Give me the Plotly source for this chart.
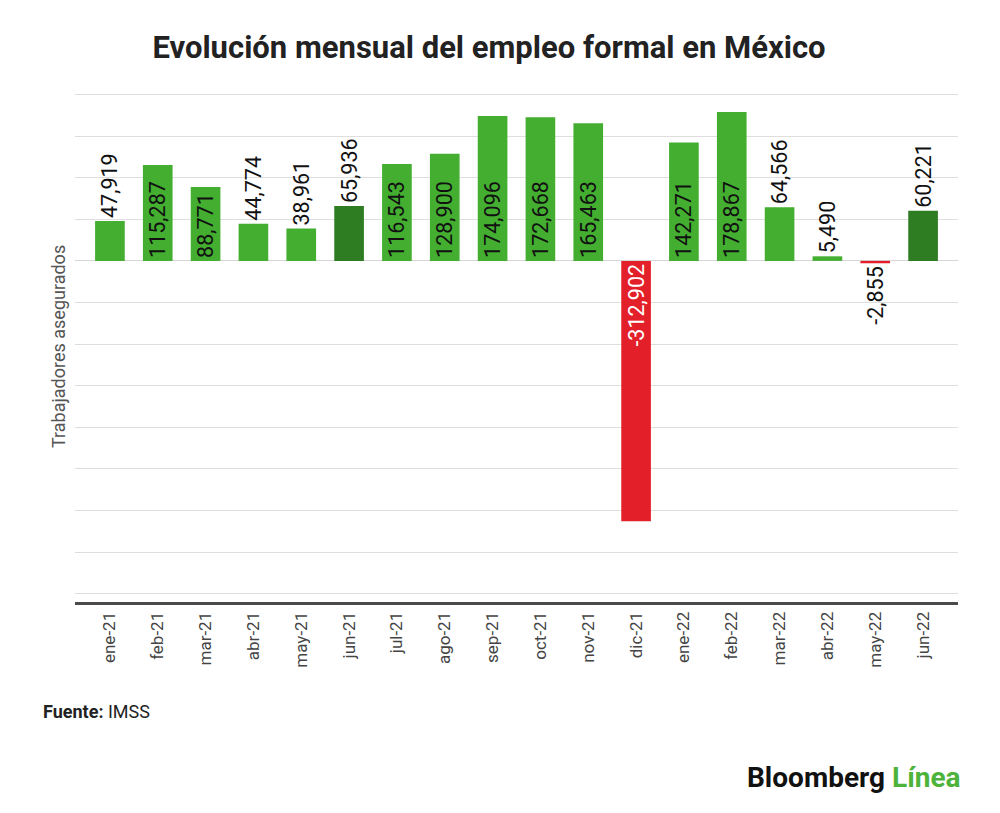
import plotly.graph_objects as go

# datos mensuales (trabajadores asegurados, variacion mensual)
months = ["ene-21", "feb-21", "mar-21", "abr-21", "may-21", "jun-21",
          "jul-21", "ago-21", "sep-21", "oct-21", "nov-21", "dic-21",
          "ene-22", "feb-22", "mar-22", "abr-22", "may-22", "jun-22"]
values = [47919, 115287, 88771, 44774, 38961, 65936,
          116543, 128900, 174096, 172668, 165463, -312902,
          142271, 178867, 64566, 5490, -2855, 60221]
highlight = ["jun-21", "jun-22"]

LIGHT_GREEN = "#43AE30"
DARK_GREEN = "#2E7D22"
RED = "#E3202A"

# la pagina tiene 8px de margen en el body
OFF = 8
W, H = 1000 - OFF, 813 - OFF
L, R, T, B = 75 - OFF, 42, 92 - OFF, 211
plot_w = W - L - R
plot_h = H - T - B


def px_x(x):
    # x en pixeles de pantalla -> coordenada paper
    return (x - OFF - L) / plot_w


def px_y(y):
    return (H - B - (y - OFF)) / plot_h


colors = []
for m, v in zip(months, values):
    if v < 0:
        colors.append(RED)
    elif m in highlight:
        colors.append(DARK_GREEN)
    else:
        colors.append(LIGHT_GREEN)

labels = [f"{v:,}" for v in values]
# etiquetas dentro de la barra solo cuando caben
positions = ["inside" if abs(v) >= 80000 else "outside" for v in values]
inside_colors = ["#ffffff" if v < 0 else "#111111" for v in values]

fig = go.Figure()
fig.add_trace(go.Bar(
    x=months,
    y=values,
    marker=dict(color=colors, line=dict(width=0)),
    text=labels,
    textposition=positions,
    textangle=-90,
    insidetextanchor="start",
    constraintext="none",
    insidetextfont=dict(family="Roboto", size=21.5, color=inside_colors),
    outsidetextfont=dict(family="Roboto", size=21.5, color="#111111"),
    cliponaxis=False,
    hoverinfo="x+y",
))

fig.update_layout(
    width=W,
    height=H,
    margin=dict(l=L, r=R, t=T, b=B),
    paper_bgcolor="white",
    plot_bgcolor="white",
    bargap=0.38,
    showlegend=False,
    font=dict(family="Roboto", color="#333333"),
    title=dict(
        text="<b>Evolución mensual del empleo formal en México</b>",
        x=(489 - OFF) / W, xanchor="center",
        y=1 - (47 - OFF) / H, yanchor="middle",
        font=dict(family="Roboto", size=31, color="#222222"),
    ),
)

fig.update_xaxes(
    range=[-0.73, 17.73],
    tickangle=-90,
    tickfont=dict(family="Roboto", size=17, color="#444444"),
    showgrid=False,
    showline=True,
    linecolor="#4a4a4a",
    linewidth=3,
    ticks="",
    fixedrange=True,
)

fig.update_yaxes(
    range=[-410000, 203000],
    dtick=50000,
    showticklabels=False,
    showgrid=True,
    gridcolor="#dedede",
    gridwidth=1,
    zeroline=True,
    zerolinecolor="#d6d6d6",
    zerolinewidth=1,
    fixedrange=True,
)

fig.add_annotation(
    text="Trabajadores asegurados",
    xref="paper", yref="paper",
    x=px_x(58), y=px_y(347),
    xanchor="center", yanchor="middle",
    textangle=-90, showarrow=False,
    font=dict(family="Roboto", size=18, color="#555555"),
)

fig.add_annotation(
    text="<b>Fuente:</b> IMSS",
    xref="paper", yref="paper",
    x=px_x(41), y=px_y(711),
    xanchor="left", yanchor="middle",
    showarrow=False,
    font=dict(family="Roboto", size=18, color="#222222"),
)

fig.add_annotation(
    text="<b>Bloomberg</b> <span style='color:#4DB33B'><b>Línea</b></span>",
    xref="paper", yref="paper",
    x=px_x(963), y=px_y(777),
    xanchor="right", yanchor="middle",
    showarrow=False,
    font=dict(family="Roboto", size=28, color="#111111", weight=900),
)

fig.write_html("out.html")
